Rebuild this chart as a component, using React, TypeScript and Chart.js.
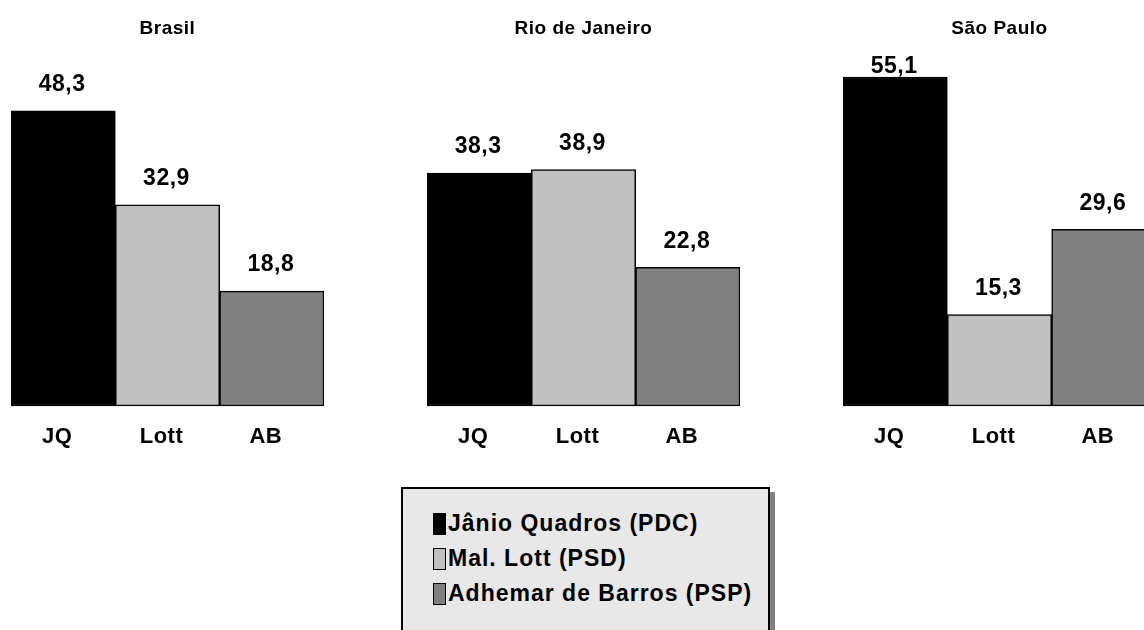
import React, { useEffect, useRef } from "react";
import { Chart, registerables } from "chart.js";

Chart.register(...registerables);

const candidates = ["JQ", "Lott", "AB"];
const legendLabels = ["Jânio Quadros (PDC)", "Mal. Lott (PSD)", "Adhemar de Barros (PSP)"];
const colors = ["#000000", "#c0c0c0", "#808080"];
const regions = ["Brasil", "Rio de Janeiro", "São Paulo"];
const brasil = [48.3, 32.9, 18.8];
const rio = [38.3, 38.9, 22.8];
const saoPaulo = [55.1, 15.3, 29.6];
const panelValues = [brasil, rio, saoPaulo];
const axisMax = [59.4, 59.7, 60.8];

const FONT = "'Liberation Sans', Arial, sans-serif";

const fmt = (v: number) => v.toFixed(1).replace(".", ",");

const spacingPlugin = {
  id: "spacing",
  beforeDraw(chart: any) {
    (chart.ctx as any).letterSpacing = "0.5px";
  },
};

const valueLabels = {
  id: "valueLabels",
  afterDatasetsDraw(chart: any) {
    const ctx = chart.ctx;
    const meta = chart.getDatasetMeta(0);
    const data = chart.data.datasets[0].data as number[];
    ctx.save();
    ctx.font = `bold 23px ${FONT}`;
    (ctx as any).letterSpacing = "0.5px";
    ctx.fillStyle = "#000";
    ctx.textAlign = "center";
    ctx.textBaseline = "middle";
    meta.data.forEach((bar: any, i: number) => {
      const y = Math.max(bar.y - 26, 67);
      ctx.fillText(fmt(data[i]), bar.x - 1, y);
    });
    ctx.restore();
  },
};

function Panel({ title, values, max, left }: { title: string; values: number[]; max: number; left: number }) {
  const ref = useRef<HTMLCanvasElement>(null);
  useEffect(() => {
    const chart = new Chart(ref.current!, {
      type: "bar",
      data: {
        labels: candidates,
        datasets: [
          {
            data: values,
            backgroundColor: colors,
            borderColor: "#000",
            borderWidth: 1.5,
            borderSkipped: false,
            categoryPercentage: 1,
            barPercentage: 1,
            clip: false as any,
          },
        ],
      },
      options: {
        responsive: false,
        animation: false,
        layout: { padding: 0 },
        plugins: {
          legend: { display: false },
          tooltip: { enabled: false },
          title: {
            display: true,
            text: title,
            color: "#000",
            font: { family: FONT, size: 19, weight: "bold" },
            padding: { top: 17, bottom: 3.2 },
          },
        },
        scales: {
          y: { display: false, min: 0, max },
          x: {
            grid: { display: false },
            border: { display: false },
            ticks: {
              color: "#000",
              font: { family: FONT, size: 22, weight: "bold" },
              padding: 10,
              labelOffset: -6,
              maxRotation: 0,
            },
            afterFit: (scale: any) => {
              scale.height = 54;
            },
          },
        },
      },
      plugins: [spacingPlugin, valueLabels],
    });
    return () => chart.destroy();
  }, []);
  return (
    <canvas
      ref={ref}
      width={313}
      height={460}
      style={{ position: "absolute", left, top: 0, width: 313, height: 460 }}
    />
  );
}

export default function App() {
  return (
    <div
      style={{
        position: "fixed",
        left: 0,
        top: 0,
        width: 1144,
        height: 630,
        overflow: "hidden",
        background: "#fff",
      }}
    >
      {regions.map((r, i) => (
        <Panel key={r} title={r} values={panelValues[i]} max={axisMax[i]} left={11 + 416 * i} />
      ))}
      <div
        style={{
          position: "absolute",
          left: 401,
          top: 487,
          width: 369,
          height: 170,
          border: "2px solid #000",
          background: "#e8e8e8",
          boxShadow: "5px 5px 0 #808080",
          paddingTop: 17,
          paddingLeft: 30,
          boxSizing: "border-box",
          fontFamily: FONT,
          fontWeight: "bold",
          fontSize: 23,
          letterSpacing: "1px",
          color: "#000",
          whiteSpace: "nowrap",
        }}
      >
        {legendLabels.map((l, i) => (
          <div key={l} style={{ display: "flex", alignItems: "center", height: 35 }}>
            <span
              style={{
                display: "inline-block",
                width: 11,
                height: 20,
                background: colors[i],
                border: "1.5px solid #000",
                marginRight: 2,
                flex: "none",
              }}
            />
            <span>{l}</span>
          </div>
        ))}
      </div>
    </div>
  );
}
